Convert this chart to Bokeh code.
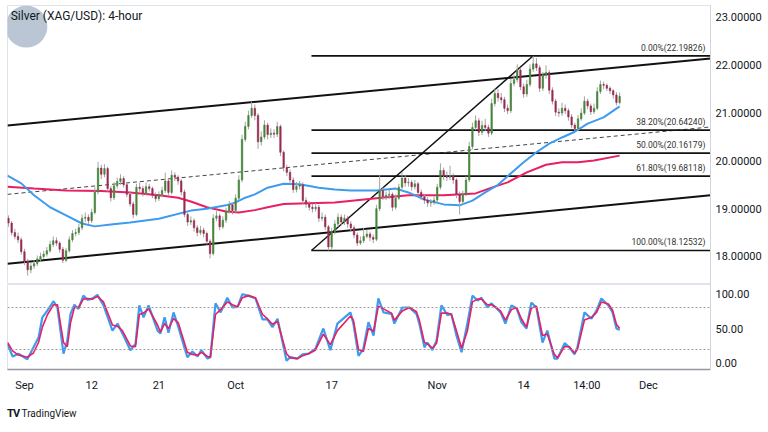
from bokeh.plotting import figure
from bokeh.models import (ColumnDataSource, Range1d, FixedTicker, PrintfTickFormatter,
                          Label, Span, Div)
from bokeh.layouts import column
from bokeh.embed import file_html
from bokeh.resources import INLINE

# ---------------- data ----------------
TITLE = "Silver (XAG/USD): 4-hour"
FIRST_OPEN = 18.80
CLOSE = [
    18.70, 18.50, 18.42, 18.35, 18.10, 17.90, 17.72, 17.80, 17.85, 17.95,
    18.00, 18.05, 18.12, 18.25, 18.33, 18.28, 18.15, 17.92, 18.12, 18.35,
    18.48, 18.50, 18.60, 18.80, 18.82, 18.75, 18.92, 19.35, 19.85, 19.72,
    19.84, 19.42, 19.23, 19.48, 19.57, 19.63, 19.50, 19.30, 19.10, 18.88,
    19.45, 19.42, 19.32, 19.46, 19.42, 19.28, 19.21, 19.29, 19.38, 19.58,
    19.34, 19.70, 19.66, 19.58, 19.35, 18.88, 18.72, 18.75, 18.60, 18.50,
    18.55, 18.48, 18.32, 18.06, 18.80, 18.85, 18.62, 18.76, 18.95, 19.08,
    18.96, 19.22, 19.60, 20.45, 20.72, 20.95, 21.10, 20.95, 20.40, 20.50,
    20.75, 20.55, 20.58, 20.56, 20.72, 20.18, 19.86, 19.76, 19.60, 19.40,
    19.47, 19.50, 19.17, 19.10, 19.03, 19.00, 19.03, 18.80, 18.82, 18.62,
    18.20, 18.52, 18.68, 18.82, 18.72, 18.80, 18.68, 18.60, 18.45, 18.28,
    18.33, 18.42, 18.47, 18.40, 18.36, 19.00, 19.38, 19.25, 19.28, 19.30,
    19.03, 19.22, 19.45, 19.64, 19.54, 19.55, 19.46, 19.52, 19.34, 19.25,
    19.18, 19.12, 19.13, 19.18, 19.45, 19.80, 19.69, 19.66, 19.69, 19.60,
    19.30, 19.15, 19.30, 19.60, 20.30, 20.70, 20.84, 20.60, 20.74, 20.70,
    20.58, 21.20, 21.41, 21.32, 21.28, 21.10, 21.05, 21.62, 21.70, 21.90,
    21.55, 21.40, 21.60, 21.92, 22.03, 21.95, 21.52, 21.79, 21.85, 21.48,
    21.25, 21.02, 21.00, 21.10, 21.05, 20.92, 20.75, 20.68, 20.88, 21.00,
    21.25, 21.15, 21.03, 21.10, 21.45, 21.60, 21.58, 21.52, 21.47, 21.38,
    21.22, 21.35,
]
HIGH = [
    18.86, 18.74, 18.58, 18.50, 18.40, 18.16, 17.95, 17.88, 17.92, 18.02,
    18.08, 18.12, 18.20, 18.33, 18.42, 18.40, 18.32, 18.20, 18.18, 18.42,
    18.55, 18.58, 18.68, 18.88, 18.92, 18.88, 19.00, 19.45, 19.98, 19.92,
    19.93, 19.88, 19.48, 19.55, 19.65, 19.72, 19.68, 19.55, 19.36, 19.15,
    19.52, 19.55, 19.48, 19.55, 19.52, 19.46, 19.34, 19.36, 19.46, 19.75,
    19.62, 19.80, 19.76, 19.70, 19.62, 19.40, 18.92, 18.84, 18.80, 18.66,
    18.64, 18.60, 18.52, 18.36, 18.88, 18.95, 18.90, 18.84, 19.02, 19.16,
    19.12, 19.30, 19.70, 20.55, 20.82, 21.05, 21.24, 21.18, 21.00, 20.62,
    20.85, 20.80, 20.68, 20.66, 20.82, 20.76, 20.22, 19.92, 19.82, 19.66,
    19.56, 19.58, 19.55, 19.24, 19.16, 19.10, 19.12, 19.08, 18.92, 18.88,
    18.66, 18.60, 18.76, 18.90, 18.88, 18.88, 18.85, 18.74, 18.65, 18.50,
    18.42, 18.60, 18.56, 18.52, 18.46, 19.08, 19.70, 19.45, 19.36, 19.40,
    19.34, 19.30, 19.52, 19.76, 19.70, 19.64, 19.60, 19.60, 19.56, 19.40,
    19.30, 19.24, 19.20, 19.26, 19.52, 19.95, 19.86, 19.78, 19.90, 19.74,
    19.64, 19.36, 19.38, 19.68, 20.40, 20.80, 20.95, 20.90, 20.84, 20.88,
    20.76, 21.30, 21.52, 21.50, 21.42, 21.34, 21.18, 21.72, 21.80, 22.02,
    21.95, 21.62, 21.70, 22.02, 22.198, 22.15, 22.00, 21.86, 22.00, 21.90,
    21.54, 21.30, 21.10, 21.22, 21.18, 21.10, 20.98, 20.80, 20.96, 21.10,
    21.35, 21.30, 21.20, 21.20, 21.54, 21.68, 21.66, 21.62, 21.56, 21.50,
    21.44, 21.43,
]
LOW = [
    18.62, 18.44, 18.36, 18.28, 18.04, 17.82, 17.60, 17.65, 17.74, 17.80,
    17.90, 17.95, 18.00, 18.08, 18.20, 18.22, 18.08, 17.86, 17.88, 18.08,
    18.30, 18.42, 18.45, 18.55, 18.72, 18.68, 18.70, 18.88, 19.30, 19.62,
    19.66, 19.36, 19.15, 19.18, 19.42, 19.50, 19.44, 19.24, 19.04, 18.80,
    18.84, 19.35, 19.25, 19.28, 19.36, 19.22, 19.14, 19.16, 19.24, 19.33,
    19.28, 19.30, 19.58, 19.50, 19.28, 18.82, 18.64, 18.66, 18.52, 18.42,
    18.45, 18.40, 18.25, 17.96, 18.02, 18.74, 18.55, 18.58, 18.70, 18.90,
    18.88, 18.92, 19.18, 19.55, 20.40, 20.66, 20.90, 20.85, 20.25, 20.32,
    20.45, 20.45, 20.48, 20.48, 20.50, 20.10, 19.78, 19.68, 19.52, 19.33,
    19.34, 19.40, 19.10, 19.02, 18.96, 18.92, 18.94, 18.72, 18.74, 18.55,
    18.125, 18.15, 18.46, 18.62, 18.65, 18.66, 18.60, 18.52, 18.38, 18.22,
    18.24, 18.28, 18.38, 18.32, 18.28, 18.32, 18.95, 19.18, 19.18, 19.20,
    18.95, 18.98, 19.18, 19.40, 19.46, 19.46, 19.38, 19.40, 19.26, 19.18,
    19.10, 19.04, 19.04, 19.08, 19.14, 19.40, 19.60, 19.58, 19.60, 19.52,
    19.22, 18.88, 19.08, 19.26, 19.56, 20.24, 20.64, 20.52, 20.54, 20.62,
    20.50, 20.54, 21.14, 21.24, 21.20, 21.02, 20.98, 21.00, 21.56, 21.64,
    21.48, 21.32, 21.34, 21.55, 21.86, 21.88, 21.44, 21.46, 21.72, 21.40,
    21.18, 20.94, 20.92, 20.94, 20.98, 20.84, 20.68, 20.62, 20.63, 20.84,
    20.96, 21.08, 20.96, 20.98, 21.06, 21.40, 21.50, 21.46, 21.40, 21.30,
    21.16, 21.18,
]

# moving averages (bar index, value)
MA_FAST_X = [-0.3, 4, 8, 13, 18, 23, 27, 32, 38, 47,
             57, 62, 68, 71, 74, 77, 81, 86, 91, 97,
             102, 107, 115, 121, 125, 130, 136, 141, 145, 149,
             153, 156, 161, 165, 169, 173, 177, 181, 186, 191]
MA_FAST = [19.69, 19.53, 19.28, 19.03, 18.86, 18.69, 18.63, 18.67, 18.71, 18.79,
           18.96, 19.00, 19.07, 19.13, 19.23, 19.30, 19.44, 19.52, 19.51, 19.44,
           19.40, 19.38, 19.38, 19.42, 19.34, 19.19, 19.09, 19.07, 19.17, 19.34,
           19.50, 19.68, 19.97, 20.18, 20.36, 20.49, 20.61, 20.78, 20.91, 21.14]
MA_SLOW_X = [-0.3, 8, 18, 29, 38, 47, 53, 57, 62, 68,
             72, 77, 81, 86, 91, 102, 115, 125, 136, 146,
             151, 156, 162, 168, 173, 178, 183, 191]
MA_SLOW = [19.46, 19.42, 19.38, 19.37, 19.34, 19.28, 19.23, 19.15, 19.03, 18.94,
           18.92, 18.97, 19.03, 19.10, 19.11, 19.13, 19.22, 19.28, 19.28, 19.32,
           19.44, 19.55, 19.76, 19.92, 19.97, 19.97, 20.01, 20.11]

# channel and fibonacci drawing (bar index / price)
CHANNEL_X = [-0.3, 219.4]
CHANNEL_UPPER = [20.74, 22.14]
CHANNEL_LOWER = [17.85, 19.28]
CHANNEL_MID = [19.30, 20.71]
FIB_ANCHOR_X = [94.7, 164.0]
FIB_RATIOS = [0.0, 0.382, 0.5, 0.618, 1.0]
FIB_PRICES = [22.19826, 20.64240, 20.16179, 19.68118, 18.12532]

# stochastic (bar index, %K, %D)
STOCH_X = [-0.3, 1.3, 3.1, 5.9, 7.8, 9.4, 10.6, 12.2, 14.1, 15.3,
           17.2, 18.4, 19.4, 20.6, 21.9, 23.4, 24.7, 26.3, 27.8, 29.7,
           32.5, 34.1, 35.6, 38.1, 39.7, 40.9, 42.2, 43.8, 46.6, 47.5,
           48.8, 50.0, 51.6, 53.1, 55.9, 57.5, 59.1, 60.3, 62.2, 63.1,
           64.7, 66.3, 68.4, 70.0, 71.6, 73.1, 75.0, 77.2, 79.4, 80.9,
           82.5, 84.1, 86.9, 88.1, 90.3, 91.9, 93.8, 95.9, 98.4, 100.6,
           102.8, 106.9, 107.8, 109.4, 110.9, 112.5, 114.1, 115.6, 117.2, 119.7,
           120.6, 123.1, 125.3, 127.5, 128.4, 130.0, 130.9, 132.5, 133.8, 135.3,
           137.2, 138.4, 140.0, 141.6, 143.4, 145.0, 146.6, 147.8, 149.7, 150.9,
           152.5, 153.8, 155.3, 157.2, 158.8, 160.3, 161.9, 163.4, 165.0, 166.9,
           168.4, 170.6, 171.6, 173.8, 175.3, 176.9, 177.8, 180.0, 182.2, 183.8,
           185.3, 187.5, 188.8, 190.0, 191.0]
STOCH_K = [28, 10, 14, 6, 23, 37, 66, 76, 89, 80,
           14, 33, 71, 84, 78, 97, 91, 93, 98, 83,
           47, 57, 43, 19, 28, 83, 66, 83, 47, 43,
           66, 44, 73, 52, 9, 17, 10, 19, 7, 9,
           86, 73, 94, 80, 81, 99, 97, 93, 63, 63,
           52, 64, 4, 9, 7, 13, 14, 21, 50, 19,
           57, 73, 57, 11, 21, 59, 40, 93, 73, 71,
           57, 80, 80, 71, 57, 23, 30, 19, 33, 83,
           69, 71, 40, 16, 57, 97, 90, 94, 80, 86,
           79, 73, 57, 83, 79, 59, 50, 87, 80, 30,
           47, 7, 7, 29, 23, 13, 23, 73, 64, 76,
           93, 83, 73, 50, 48]
STOCH_D = [30, 18, 12, 9, 15, 30, 52, 70, 84, 84,
           30, 24, 58, 80, 80, 92, 93, 92, 96, 88,
           55, 53, 47, 25, 24, 70, 72, 78, 55, 45,
           57, 50, 64, 58, 16, 13, 12, 16, 10, 9,
           70, 77, 88, 84, 81, 94, 97, 94, 70, 64,
           56, 60, 14, 8, 7, 11, 14, 19, 42, 27,
           47, 68, 62, 20, 17, 50, 46, 82, 78, 72,
           62, 75, 80, 74, 62, 30, 28, 22, 29, 72,
           72, 70, 47, 22, 46, 88, 92, 92, 84, 84,
           80, 75, 62, 77, 80, 64, 52, 79, 82, 40,
           42, 13, 8, 24, 24, 15, 20, 62, 66, 73,
           88, 85, 76, 56, 50]
STOCH_BANDS = [20, 80]

PRICE_TICKS = [18, 19, 20, 21, 22, 23]
STOCH_TICKS = [0, 50, 100]
TIME_TICKS = [5, 26, 47, 71, 101, 134, 161, 180.75, 200]
TIME_LABELS = ["Sep", "12", "21", "Oct", "17", "Nov", "14", "14:00", "Dec"]

# ---------------- styling ----------------
FONT = "Roboto"
TXT = "#131722"
UP = "#46853a"
DOWN = "#982a52"
WICK = "#a3a3a3"
BLUE = "#3d9bf0"
PINK = "#e91e63"
GRIDLINE = "#e0e3eb"
X_START, X_END = -0.3, 219.4

OPEN = [FIRST_OPEN] + CLOSE[:-1]
bars = list(range(len(CLOSE)))
src = ColumnDataSource(dict(
    x=bars, high=HIGH, low=LOW,
    top=[max(o, c) for o, c in zip(OPEN, CLOSE)],
    bottom=[min(o, c) for o, c in zip(OPEN, CLOSE)],
    color=[UP if c >= o else DOWN for o, c in zip(OPEN, CLOSE)],
))

p = figure(width=768, height=284, x_range=Range1d(X_START, X_END),
           y_range=Range1d(17.414, 23.251), output_backend="svg",
           toolbar_location=None, y_axis_location="right", x_axis_location=None,
           min_border_left=7, min_border_right=58, min_border_top=5,
           min_border_bottom=0, border_fill_color="white")
p.grid.visible = False
p.outline_line_color = GRIDLINE
ya = p.yaxis[0]
ya.ticker = FixedTicker(ticks=PRICE_TICKS)
ya.formatter = PrintfTickFormatter(format="%.5f")
ya.major_label_text_font = FONT
ya.major_label_text_font_size = "11px"
ya.major_label_text_color = TXT
ya.major_tick_line_color = None
ya.minor_tick_line_color = None
ya.major_tick_out = 0
ya.minor_tick_out = 0
ya.axis_line_color = "#d1d4dc"
ya.major_label_standoff = 5

# watermark logo
p.scatter(x=[5.6], y=[22.81], size=42, color="#b3c0ce", alpha=0.9, line_color=None)

# channel
p.line(CHANNEL_X, CHANNEL_UPPER, line_color="#111111", line_width=2)
p.line(CHANNEL_X, CHANNEL_LOWER, line_color="#111111", line_width=2)
p.line(CHANNEL_X, CHANNEL_MID, line_color="#444444", line_width=1, line_dash="4 3")

# fibonacci
p.ray(x=[FIB_ANCHOR_X[0]] * len(FIB_PRICES), y=FIB_PRICES, length=0, angle=0,
      line_color="#111111", line_width=1.7)
p.line(FIB_ANCHOR_X, [FIB_PRICES[-1], FIB_PRICES[0]], line_color="#111111", line_width=1.4)

# moving averages
p.line(MA_SLOW_X, MA_SLOW, line_color=PINK, line_width=2)
p.line(MA_FAST_X, MA_FAST, line_color=BLUE, line_width=2)

# candles
p.segment(x0="x", x1="x", y0="low", y1="high", source=src, line_color=WICK, line_width=1)
p.vbar(x="x", width=0.45, top="top", bottom="bottom", source=src,
       fill_color="color", line_color="color", line_width=0.6)

for r, price in zip(FIB_RATIOS, FIB_PRICES):
    p.add_layout(Label(x=217.8, y=price, text=f"{r * 100:.2f}%({price:.5f})",
                       text_align="right", text_baseline="bottom", y_offset=3,
                       text_font=FONT, text_font_size="8.5px", text_color="#333333"))

p.add_layout(Label(x=0.7, y=23.04, text=TITLE, text_baseline="middle",
                   text_font=FONT, text_font_size="12px", text_color=TXT))

# ---------------- stochastic pane ----------------
s = figure(width=768, height=114, x_range=p.x_range, y_range=Range1d(-8.6, 112.9),
           output_backend="svg", toolbar_location=None, y_axis_location="right",
           min_border_left=7, min_border_right=58, min_border_top=0,
           min_border_bottom=29, border_fill_color="white")
s.grid.visible = False
s.outline_line_color = GRIDLINE
sy = s.yaxis[0]
sy.ticker = FixedTicker(ticks=STOCH_TICKS)
sy.formatter = PrintfTickFormatter(format="%.2f")
sx = s.xaxis[0]
sx.ticker = FixedTicker(ticks=TIME_TICKS)
sx.major_label_overrides = {t: lab for t, lab in zip(TIME_TICKS, TIME_LABELS)}
for ax in (sy, sx):
    ax.major_label_text_font = FONT
    ax.major_label_text_font_size = "11px"
    ax.major_label_text_color = TXT
    ax.major_tick_line_color = None
    ax.minor_tick_line_color = None
    ax.major_tick_out = 0
    ax.minor_tick_out = 0
sy.axis_line_color = "#d1d4dc"
sy.major_label_standoff = 5
sx.axis_line_color = "#9598a1"
sx.axis_line_width = 1.5
sx.major_label_standoff = 9

for b in STOCH_BANDS:
    s.add_layout(Span(location=b, dimension="width", line_color="#9e9e9e",
                      line_dash="2 2", line_width=1))
s.line(STOCH_X, STOCH_K, line_color=BLUE, line_width=2.2)
s.line(STOCH_X, STOCH_D, line_color=PINK, line_width=1.6)

footer = Div(text=('<div style="padding:8px 0 0 7px;font-family:Roboto;font-size:10px;'
                   'color:#131722"><b style="font-size:11px;letter-spacing:-1px">TV</b>'
                   '&nbsp;TradingView</div>'),
             width=768, height=34, margin=(0, 0, 0, 0))

layout = column(p, s, footer, spacing=0)
open("out.html", "w").write(file_html(layout, INLINE))
